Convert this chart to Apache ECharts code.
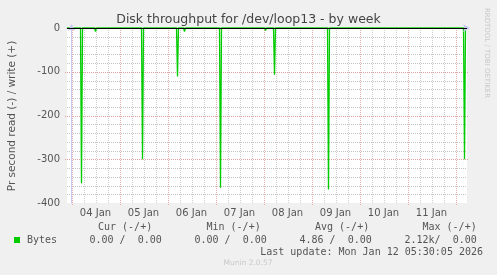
<!DOCTYPE html>
<html>
<head>
<meta charset="utf-8">
<script src="https://cdn.jsdelivr.net/npm/echarts@6/dist/echarts.min.js"></script>
<style>
  html, body { margin: 0; padding: 0; background: #f0f0f0; }
  #chart { width: 497px; height: 275px; }
</style>
</head>
<body>
<div id="chart"></div>
<script>
// Hours since 03 Jan 00:00
const dayLabels = ['04 Jan', '05 Jan', '06 Jan', '07 Jan', '08 Jan', '09 Jan', '10 Jan', '11 Jan'];
const labelHours = [12, 36, 60, 84, 108, 132, 156, 180];
const dayHours = [0, 24, 48, 72, 96, 120, 144, 168, 192];
const minorHours = [6, 12, 18, 30, 36, 42, 54, 60, 66, 78, 84, 90, 102, 108, 114, 126, 132, 138, 150, 156, 162, 174, 180, 186];
// read (-) spikes, bytes/s
const spikeHours = [5, 12, 35.5, 40, 53, 56.5, 65, 74.5, 78, 97, 101.5, 110, 128.5, 145.5, 152.5, 196.5];
const readValues = [-355, -8, -300, -2, -111, -8, -2, -365, -2, -6, -107, -2, -369, -2, -4, -300];
const timeStart = -2.25, timeEnd = 197.75;
const yMin = -400, yMax = 0;
const yTicks = [0, -100, -200, -300, -400];
const yMajorGrid = [-100, -200, -300];
const yMinorGrid = [-20, -40, -60, -80, -120, -140, -160, -180, -220, -240, -260, -280, -320, -340, -360, -380];

const readData = [[timeStart, 0]];
spikeHours.forEach((h, i) => {
  readData.push([h - 0.5, 0], [h, readValues[i]], [h + 0.5, 0]);
});
readData.push([timeEnd, 0]);
const writeData = [[timeStart, 0], [timeEnd, 0]];

const legendHeads = [
  { x: 98, text: 'Cur (-/+)' },
  { x: 206.5, text: 'Min (-/+)' },
  { x: 315, text: 'Avg (-/+)' },
  { x: 422.5, text: 'Max (-/+)' }
];
const legendVals = [
  { x: 89.5, text: '0.00 /  0.00' },
  { x: 194.5, text: '0.00 /  0.00' },
  { x: 299.5, text: '4.86 /  0.00' },
  { x: 404.5, text: '2.12k/  0.00' }
];

const mono = '10px "DejaVu Sans Mono"';
const txtColor = '#555555';
const majorGrid = '#e6acac';
const minorGrid = '#cfcfcf';
const hMajorGrid = '#e0a0a0';
const hMinorGrid = '#c4c4c4';
const dash = [1, 1];
const graphics = [
  { type: 'text', x: 248.5, y: 19.5, style: { text: 'Disk throughput for /dev/loop13 - by week', font: '12.5px "DejaVu Sans"', fill: '#444444', textAlign: 'center', textVerticalAlign: 'middle' } },
  { type: 'text', x: 12, y: 116, rotation: Math.PI / 2, style: { text: 'Pr second read (-) / write (+)', font: '10.5px "DejaVu Sans"', fill: txtColor, textAlign: 'center', textVerticalAlign: 'middle' } },
  { type: 'text', x: 487, y: 53, rotation: -Math.PI / 2, style: { text: 'RRDTOOL / TOBI OETIKER', font: '7px "DejaVu Sans"', fill: '#c8c8c8', textAlign: 'center', textVerticalAlign: 'middle' } },
  { type: 'rect', shape: { x: 14, y: 237, width: 6, height: 6 }, style: { fill: '#00cc00' } },
  { type: 'text', x: 27, y: 240, style: { text: 'Bytes', font: mono, fill: txtColor, textVerticalAlign: 'middle' } },
  { type: 'text', x: 483, y: 252, style: { text: 'Last update: Mon Jan 12 05:30:05 2026', font: mono, fill: txtColor, textAlign: 'right', textVerticalAlign: 'middle' } },
  { type: 'text', x: 248, y: 263.5, style: { text: 'Munin 2.0.57', font: '7.5px "DejaVu Sans"', fill: '#c8c8c8', textAlign: 'center', textVerticalAlign: 'middle' } }
];
legendHeads.forEach(h => graphics.push({ type: 'text', x: h.x, y: 227.5, style: { text: h.text, font: mono, fill: txtColor, textVerticalAlign: 'middle' } }));
legendVals.forEach(h => graphics.push({ type: 'text', x: h.x, y: 240, style: { text: h.text, font: mono, fill: txtColor, textVerticalAlign: 'middle' } }));

function vGridSeries(hours, color, below) {
  return {
    type: 'custom', silent: true, z: 1, clip: false,
    data: hours.map(h => [h, 0]),
    encode: { x: 0, y: 1 },
    renderItem: (params, api) => {
      const h = api.value(0);
      const p0 = api.coord([h, yMax]);
      const p1 = api.coord([h, yMin]);
      const x = Math.round(p0[0]) + 0.5;
      return {
        type: 'line',
        shape: { x1: x, y1: p0[1], x2: x, y2: p1[1] + below },
        style: { stroke: color, lineWidth: 1, lineDash: dash }
      };
    }
  };
}
function hGridSeries(values, color, extra) {
  return {
    type: 'custom', silent: true, z: 1, clip: false,
    data: values.map(v => [timeStart, v]),
    encode: { x: 0, y: 1 },
    renderItem: (params, api) => {
      const v = api.value(1);
      const p0 = api.coord([timeStart, v]);
      const p1 = api.coord([timeEnd, v]);
      const y = Math.round(p0[1]) + 0.5;
      return {
        type: 'line',
        shape: { x1: p0[0] - extra, y1: y, x2: p1[0] + extra, y2: y },
        style: { stroke: color, lineWidth: 1, lineDash: dash }
      };
    }
  };
}

const chart = echarts.init(document.getElementById('chart'), null, { renderer: 'canvas' });
chart.setOption({
  backgroundColor: '#f0f0f0',
  animation: false,
  grid: { left: 67, right: 30, top: 28, bottom: 72, show: true, backgroundColor: '#ffffff', borderWidth: 0, z: -1 },
  xAxis: {
    type: 'value', min: timeStart, max: timeEnd, z: 3,
    axisLine: { show: true, lineStyle: { color: '#c8c8f0', width: 1 }, symbol: ['none', 'arrow'], symbolSize: [6, 7], symbolOffset: [0, 3] },
    axisTick: { show: false },
    axisLabel: { customValues: labelHours, formatter: v => dayLabels[labelHours.indexOf(v)] || '', color: txtColor, fontFamily: 'DejaVu Sans', fontSize: 10, margin: 5 },
    splitLine: { show: false }
  },
  yAxis: {
    type: 'value', min: yMin, max: yMax, interval: 100, z: 3,
    axisLine: { show: true, lineStyle: { color: '#c8c8f0', width: 1 }, symbol: ['none', 'arrow'], symbolSize: [6, 7], symbolOffset: [0, 4] },
    axisTick: { show: false },
    axisLabel: { color: txtColor, fontFamily: 'DejaVu Sans', fontSize: 10, margin: 7, formatter: v => yTicks.includes(v) ? String(v) : '' },
    splitLine: { show: false }
  },
  graphic: graphics,
  series: [
    vGridSeries(minorHours, minorGrid, 0),
    hGridSeries(yMinorGrid, hMinorGrid, 0),
    vGridSeries(dayHours, majorGrid, 3),
    hGridSeries(yMajorGrid, hMajorGrid, 2),
    {
      name: 'write', type: 'line', data: writeData, showSymbol: false, z: 2, silent: true,
      lineStyle: { color: '#00cc00', width: 1 }
    },
    {
      name: 'read', type: 'line', data: readData, showSymbol: false, z: 3, silent: true,
      lineStyle: { color: '#00cc00', width: 1.3 },
      markLine: {
        silent: true, symbol: 'none', animation: false, label: { show: false },
        data: [{ yAxis: 0, lineStyle: { color: '#000000', type: 'solid', width: 1 } }]
      }
    }
  ]
});
</script>
</body>
</html>
